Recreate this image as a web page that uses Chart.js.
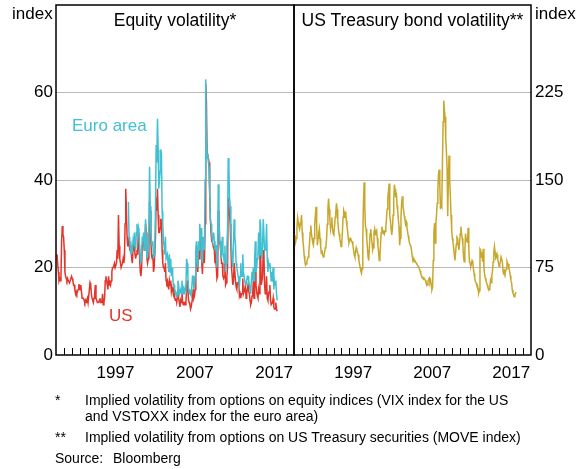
<!DOCTYPE html>
<html>
<head>
<meta charset="utf-8">
<script src="https://cdn.jsdelivr.net/npm/chart.js@4.4.1/dist/chart.umd.min.js"></script>
<style>
  body { margin: 0; background: #fff; }
  #wrap { position: relative; width: 588px; height: 469px; overflow: hidden;
          font-family: Arial, "Liberation Sans", sans-serif; color: #000; }
  canvas { position: absolute; top: 0; }
  .t { position: absolute; white-space: nowrap; font-size: 17px; line-height: 20px; }
  .ttl { font-size: 17.5px; text-align: center; }
  .note { position: absolute; white-space: nowrap; font-size: 14px; line-height: 16px; }
</style>
</head>
<body>
<div id="wrap">
  <canvas id="equity" width="300" height="469" style="left:0"></canvas>
  <canvas id="bond" width="300" height="469" style="left:288px"></canvas>

  <div class="t" style="left:12px;top:4px">index</div>
  <div class="t" style="left:535px;top:4px">index</div>
  <div class="t ttl" style="left:56px;width:238px;top:10px">Equity volatility*</div>
  <div class="t ttl" style="left:294px;width:237px;top:10px">US Treasury bond volatility**</div>
  <div class="t" style="left:72px;top:116px;color:#3fc1d1">Euro area</div>
  <div class="t" style="left:109px;top:306px;color:#e2352b">US</div>

  <div class="note" style="left:55px;top:392px">*</div>
  <div class="note" style="left:85px;top:392px">Implied volatility from options on equity indices (VIX index for the US</div>
  <div class="note" style="left:85px;top:408px">and VSTOXX index for the euro area)</div>
  <div class="note" style="left:55px;top:429px">**</div>
  <div class="note" style="left:85px;top:429px">Implied volatility from options on US Treasury securities (MOVE index)</div>
  <div class="note" style="left:55px;top:450px">Source:</div>
  <div class="note" style="left:113px;top:450px">Bloomberg</div>
</div>

<script>
// monthly observations, first value in Feb 1990 (US, MOVE) and Feb 1999 (euro area)
const usStart = 1990 + 1.5 / 12;
const euroStart = 1999 + 1.5 / 12;
const moveStart = 1990 + 1.5 / 12;

// VIX
const usValues = [
  23, 21, 19, 17, 17.5, 17, 18, 26, 29.5, 27.5, 27, 24,
  19, 18, 17.5, 17, 17.5, 17, 17, 16.5, 17, 17, 18, 17.5,
  17, 16, 16, 15, 14, 14.5, 14, 14.5, 15, 16, 16, 15,
  16, 14.5, 13, 13, 13, 12.5, 12, 12.5, 12, 12.5, 13, 12,
  12, 15, 16.5, 16, 14, 13, 12.5, 12, 13, 14, 16, 13,
  12.5, 12, 12, 12, 12.5, 13, 12, 12, 12.5, 14, 11.5, 12,
  13, 17, 18, 17, 16, 15, 18, 16, 16.5, 16, 17, 19,
  20, 20, 20.5, 21, 20, 20, 21, 24, 22, 32, 25, 22,
  21, 20, 20, 21, 22, 21, 22, 30, 38, 33, 27, 25,
  25, 26, 24, 24, 25, 22, 21, 24, 25, 26, 23, 22,
  23, 24, 23, 28, 27, 22, 19, 18, 20, 25, 26, 27,
  24, 25, 30, 28, 22, 21, 22, 23, 35, 33, 26, 23,
  22, 23, 19, 20, 20, 27, 36, 33, 38, 32, 28, 28,
  29, 31, 31, 24, 21, 20, 20, 19, 21, 17, 16.5, 17,
  16, 15, 17, 16, 17, 14.5, 15.5, 15, 14, 15, 13, 12.5,
  13, 12, 13, 15, 13, 12, 11, 12.5, 12, 15, 12, 11.5,
  12, 12, 11.5, 12, 15, 17, 15, 12.5, 12, 11.5, 10.5, 11,
  11, 13, 15, 13, 13.5, 15, 19, 25, 21, 19, 24, 22,
  26, 26, 27, 21, 18.5, 23, 24, 21, 30, 62, 58, 46,
  45, 45, 44, 37, 31, 28, 26, 26, 25, 25, 24, 21,
  22, 20, 17.5, 18, 33, 32, 26, 25, 23, 21, 21, 18,
  17.5, 18, 21, 16, 16.5, 18, 20, 36, 36, 32, 30, 25,
  20, 18, 16, 17, 21, 21, 17, 15.5, 15, 16.5, 16.5, 17.5,
  13.5, 14, 13, 14, 14, 17.5, 14, 14.5, 15, 16, 13, 14,
  15, 16, 14.5, 14, 12.5, 11.5, 12, 13.5, 14, 17, 13, 16,
  19, 16, 14.5, 13.5, 13, 15, 14, 23, 24, 16, 16, 18,
  24, 23, 16, 14, 15, 18, 13, 12.5, 14, 14.5, 16, 12.5,
  11.5, 11.5, 12, 13, 11, 10.5, 10.5, 12, 10.5, 10
];

// VSTOXX
const euroValues = [
  35, 27, 26, 24, 25, 23, 24, 26, 25, 28, 25, 24,
  28, 30, 28, 29, 27, 25, 22, 21, 23, 27, 26, 28,
  24, 26, 31, 27, 22, 23, 24, 27, 43, 34, 28, 26,
  25, 26, 22, 23, 25, 34, 48, 44, 54, 47, 38, 40,
  42, 47, 46, 33, 30, 26, 25, 23, 27, 22, 22, 23,
  21, 19, 23, 19, 22, 18, 20, 18, 16, 16, 15, 14,
  14.5, 13.5, 14, 17, 16, 14, 14, 15, 14, 17, 15, 14,
  15, 14.5, 15.5, 15, 22, 21, 18, 15, 15, 14, 14, 13.5,
  13.5, 18, 18, 15, 16, 18, 24, 26, 22, 20, 26, 24,
  30, 27, 29, 22, 21, 27, 27, 24, 40, 63, 50, 45,
  46, 44, 43, 37, 31, 30, 28, 26, 27, 28, 26, 24,
  25, 25, 20, 25, 39, 32, 26, 26, 23, 22, 27, 23,
  23, 21, 25, 19, 21, 25, 29, 45, 43, 36, 34, 28,
  24, 22, 20, 26, 31, 27, 25, 21, 20, 19, 18, 17,
  16, 18, 21, 18, 18, 23, 19, 18, 18, 16, 16, 16,
  18, 18, 17, 16, 15, 14, 17, 19, 17, 20, 17, 22,
  26, 19, 20, 22, 23, 28, 23, 31, 30, 23, 22, 25,
  31, 31, 24, 24, 25, 30, 22, 19, 21, 20, 21, 19,
  17, 19, 18, 20, 15, 17, 16, 17, 14, 12.5
];

// MOVE
const moveValues = [
  103, 97, 100, 110, 118, 114, 110, 108, 112, 114, 120, 105,
  98, 93, 85, 80, 77, 78, 80, 82, 84, 88, 95, 105,
  111, 104, 100, 96, 94, 100, 112, 120, 127, 110, 94, 100,
  104, 108, 100, 93, 87, 90, 86, 84, 85, 88, 92, 93,
  100, 112, 125, 134, 125, 116, 108, 112, 118, 108, 104, 103,
  110, 118, 122, 130, 125, 115, 108, 104, 100, 97, 93, 95,
  105, 118, 124, 122, 118, 123, 115, 110, 106, 100, 96, 98,
  100, 99, 97, 97, 94, 90, 86, 84, 88, 92, 90, 88,
  86, 81, 78, 75, 72, 70, 74, 100, 130, 148, 128, 110,
  108, 100, 92, 84, 81, 92, 104, 108, 102, 96, 90, 92,
  105, 108, 103, 106, 107, 100, 94, 88, 81, 85, 95, 105,
  110, 106, 104, 107, 104, 106, 110, 117, 125, 135, 140, 147,
  119, 115, 108, 103, 108, 120, 134, 146, 142, 135, 139, 128,
  124, 116, 110, 94, 100, 118, 130, 136, 128, 124, 119, 116,
  112, 114, 110, 106, 102, 99, 96, 94, 93, 90, 85, 81,
  82, 80, 81, 80, 79, 78, 77, 76, 75, 74, 72, 70,
  68, 67, 66, 65, 66, 66, 64, 62, 61, 60, 63, 65,
  66, 62, 64, 60, 56, 58, 81, 105, 113, 96, 113, 120,
  130, 141, 155, 159, 145, 125, 130, 128, 165, 200, 218, 210,
  204, 185, 175, 160, 119, 150, 171, 150, 137, 120, 108, 100,
  97, 92, 86, 81, 88, 95, 101, 100, 94, 90, 96, 104,
  110, 104, 100, 95, 84, 80, 88, 104, 98, 100, 96, 109,
  92, 80, 79, 76, 78, 81, 80, 74, 70, 66, 63, 62,
  60, 60, 57, 53, 55, 91, 90, 84, 88, 80, 91, 75,
  69, 66, 64, 62, 60, 58, 57, 56, 58, 64, 62, 68,
  72, 80, 88, 93, 88, 83, 84, 86, 82, 79, 76, 78,
  80, 84, 84, 80, 72, 69, 72, 70, 72, 74, 80, 78,
  78, 74, 72, 68, 64, 62, 56, 53, 52, 50, 51, 53,
  54
];

const labelYears = [1997, 2007, 2017];
const equityTicks = [0, 20, 40, 60];
const bondTicks = [0, 75, 150, 225];

const RED = '#e2352b';
const CYAN = '#3fc1d1';
const GOLD = '#c8a82c';
const GRID = '#b8b8b8';
const FONT = { family: 'Arial, "Liberation Sans", sans-serif', size: 17 };

function monthly(start, values) {
  return values.map((v, i) => ({ x: start + i / 12, y: v }));
}

function line(label, data, color) {
  return { label, data, borderColor: color, borderWidth: 1.5, pointRadius: 0, tension: 0, fill: false };
}

// panel frame and the small yearly ticks standing up from the bottom axis
const frame = {
  id: 'frame',
  afterDraw(chart) {
    const { ctx, chartArea: a } = chart;
    const x = chart.scales.x;
    ctx.save();
    ctx.strokeStyle = '#000';
    ctx.lineWidth = 1;
    ctx.beginPath();
    for (let yr = Math.ceil(x.min) + 1; yr < x.max; yr++) {
      const px = Math.round(x.getPixelForValue(yr)) + 0.5;
      ctx.moveTo(px, a.bottom);
      ctx.lineTo(px, a.bottom - 7);
    }
    ctx.stroke();
    ctx.lineWidth = 1.5;
    ctx.strokeRect(a.left, a.top, a.right - a.left, a.bottom - a.top);
    ctx.restore();
  }
};

function noPad(s) {
  s.paddingTop = 0;
  s.paddingBottom = 0;
  s.paddingLeft = 0;
  s.paddingRight = 0;
}

function panel(id, datasets, yMax, yTicks, side) {
  return new Chart(document.getElementById(id), {
    type: 'line',
    data: { datasets },
    plugins: [frame],
    options: {
      responsive: false,
      animation: false,
      layout: { padding: side === 'left' ? { top: 5, right: 6 } : { top: 5, left: 6 } },
      plugins: { legend: { display: false }, tooltip: { enabled: false } },
      scales: {
        x: {
          type: 'linear',
          min: 1990,
          max: 2020,
          afterBuildTicks: (s) => { s.ticks = labelYears.map((y) => ({ value: y + 0.5 })); },
          afterFit: (s) => { s.height = 114; noPad(s); },
          ticks: { callback: (v) => String(Math.floor(v)), autoSkip: false, maxRotation: 0, padding: 8, font: FONT, color: '#000' },
          grid: { display: false, drawTicks: false },
          border: { display: false }
        },
        y: {
          position: side,
          min: 0,
          max: yMax,
          afterBuildTicks: (s) => { s.ticks = yTicks.map((v) => ({ value: v })); },
          afterFit: (s) => { s.width = side === 'left' ? 56 : 57; noPad(s); },
          ticks: { padding: side === 'left' ? 3 : 4, font: FONT, color: '#000' },
          grid: { color: (c) => (c.tick.value === 0 ? 'rgba(0,0,0,0)' : GRID), drawTicks: false, lineWidth: 1 },
          border: { display: false }
        }
      }
    }
  });
}

// first dataset is drawn on top: euro area over US
panel('equity', [
  line('Euro area', monthly(euroStart, euroValues), CYAN),
  line('US', monthly(usStart, usValues), RED)
], 80, equityTicks, 'left');

panel('bond', [
  line('US Treasury', monthly(moveStart, moveValues), GOLD)
], 300, bondTicks, 'right');
</script>
</body>
</html>
